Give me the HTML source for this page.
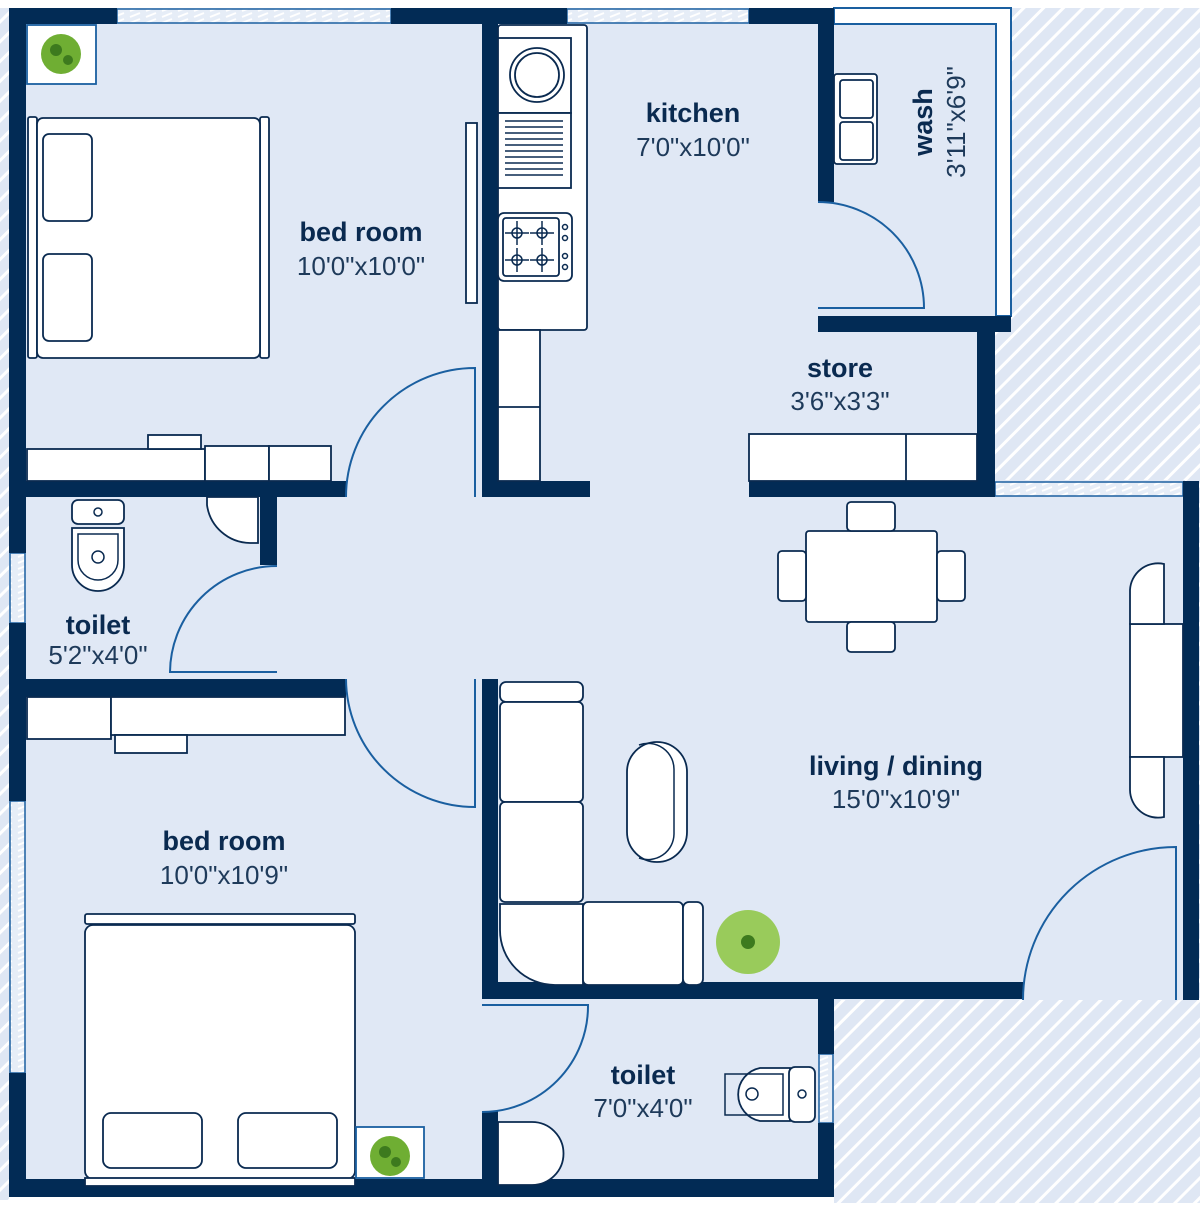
<!DOCTYPE html>
<html><head><meta charset="utf-8"><style>
html,body{margin:0;padding:0;background:#fff;}
svg{display:block;}
text{font-family:"Liberation Sans",sans-serif;fill:#0a2a50;}
.b{font-weight:bold;font-size:27px;}
.d{font-size:26px;fill:#1e3a5a;}
</style></head><body>
<svg width="1200" height="1208" viewBox="0 0 1200 1208" xmlns="http://www.w3.org/2000/svg">
<defs>
<pattern id="h" width="14" height="14" patternUnits="userSpaceOnUse" patternTransform="rotate(45)">
<rect width="14" height="14" fill="#dfe7f4"/><rect x="0" y="0" width="3" height="14" fill="#fff"/>
</pattern>
<pattern id="w" width="16" height="6" patternUnits="userSpaceOnUse">
<rect width="16" height="6" fill="#e6edf7"/><line x1="2" y1="5" x2="12" y2="1" stroke="#fff" stroke-width="2"/>
</pattern>
</defs>
<rect width="1200" height="1208" fill="#fff"/>
<rect x="0" y="8" width="9" height="1192" fill="url(#h)"/>
<rect x="1011" y="8" width="189" height="475" fill="url(#h)"/>
<rect x="995" y="330" width="205" height="153" fill="url(#h)"/>
<rect x="834" y="998" width="366" height="205" fill="url(#h)"/>
<rect x="1198" y="480" width="2" height="520" fill="url(#h)"/>
<g fill="#e0e8f5">
<rect x="9" y="8" width="825" height="490"/>
<rect x="834" y="24" width="162" height="300"/>
<rect x="830" y="324" width="150" height="170"/>
<rect x="9" y="480" width="1176" height="520"/>
<rect x="9" y="990" width="825" height="200"/>
</g>
<path d="M834 8 H1011 V316 H996 V24 H834 Z" fill="#fff" stroke="#1a5fa0" stroke-width="2"/>
<g fill="url(#w)" stroke="#1a5fa0" stroke-width="1.5">
<rect x="117" y="9" width="274" height="14"/>
<rect x="567" y="9" width="182" height="14"/>
<rect x="995" y="482" width="188" height="14"/>
<rect x="10" y="553" width="15" height="70"/>
<rect x="10" y="801" width="15" height="272"/>
<rect x="819" y="1054" width="14" height="69"/>
</g>
<g fill="#022b55">
<rect x="9" y="8" width="108" height="16"/>
<rect x="391" y="8" width="176" height="16"/>
<rect x="749" y="8" width="85" height="16"/>
<rect x="9" y="8" width="17" height="545"/>
<rect x="9" y="623" width="17" height="178"/>
<rect x="9" y="1073" width="17" height="124"/>
<rect x="9" y="1179" width="825" height="18"/>
<rect x="482" y="8" width="16" height="489"/>
<rect x="9" y="481" width="337" height="16"/>
<rect x="482" y="481" width="108" height="16"/>
<rect x="260" y="497" width="17" height="68"/>
<rect x="9" y="679" width="337" height="18"/>
<rect x="482" y="679" width="16" height="320"/>
<rect x="482" y="982" width="541" height="17"/>
<rect x="482" y="1111" width="16" height="86"/>
<rect x="818" y="982" width="16" height="72"/>
<rect x="818" y="1123" width="16" height="74"/>
<rect x="818" y="8" width="16" height="194"/>
<rect x="818" y="316" width="193" height="16"/>
<rect x="977" y="316" width="18" height="181"/>
<rect x="749" y="481" width="246" height="16"/>
<rect x="1183" y="481" width="16" height="519"/>
</g>
<g fill="none" stroke="#1a5fa0" stroke-width="2">
<path d="M346 497 A129 129 0 0 1 475 368 V497"/>
<path d="M277 566 A107 107 0 0 0 170 672 H277"/>
<path d="M346 679 A129 129 0 0 0 475 807 V679"/>
<path d="M482 1005 H588 A106 106 0 0 1 482 1112"/>
<path d="M818 202 A106 106 0 0 1 924 308 H818"/>
<path d="M1023 1000 A153 153 0 0 1 1176 847 V1000"/>
</g>
<g fill="#fff" stroke="#0a2a50" stroke-width="1.8">
<rect x="28" y="117" width="9" height="241" rx="2"/>
<rect x="260" y="117" width="9" height="241" rx="2"/>
<rect x="37" y="118" width="223" height="240" rx="6"/>
<rect x="43" y="134" width="49" height="87" rx="6"/>
<rect x="43" y="254" width="49" height="87" rx="6"/>
<rect x="466" y="123" width="11" height="180"/>
<rect x="27" y="25" width="69" height="59" stroke="#1a5fa0"/>
<rect x="498" y="25" width="89" height="305" rx="3"/>
<rect x="498" y="38" width="73" height="75"/>
<circle cx="537" cy="75" r="27"/><circle cx="537" cy="75" r="22"/>
<rect x="498" y="113" width="73" height="75"/>
<rect x="498" y="213" width="74" height="68" rx="6"/>
<rect x="503" y="218" width="56" height="58" rx="3"/>
<rect x="498" y="330" width="42" height="151"/>
<line x1="498" y1="407" x2="540" y2="407"/>
<rect x="27" y="449" width="178" height="32"/>
<rect x="205" y="446" width="64" height="35"/>
<rect x="269" y="446" width="62" height="35"/>
<rect x="148" y="435" width="53" height="14"/>
<rect x="72" y="500" width="52" height="24" rx="6"/>
<path d="M72 528 H124 V565 A26 26 0 0 1 72 565 Z"/>
<path d="M207 497 H258 V543 H250 A44 44 0 0 1 207 505 Z"/>
<rect x="27" y="697" width="84" height="42"/>
<rect x="111" y="697" width="234" height="38"/>
<rect x="115" y="735" width="72" height="18"/>
<rect x="85" y="914" width="270" height="10" rx="2"/>
<rect x="85" y="925" width="270" height="254" rx="8"/>
<rect x="85" y="1178" width="270" height="8"/>
<rect x="103" y="1113" width="99" height="55" rx="8"/>
<rect x="238" y="1113" width="99" height="55" rx="8"/>
<rect x="356" y="1127" width="68" height="51" stroke="#1a5fa0"/>
<path d="M498 1122 H532 A31 31 0 0 1 532 1185 H498 Z"/>
<path d="M790 1068 V1121 H760 A27 27 0 0 1 760 1068 Z"/>
<rect x="789" y="1067" width="26" height="55" rx="6"/>
<rect x="749" y="434" width="228" height="47"/>
<line x1="906" y1="434" x2="906" y2="481"/>
<rect x="806" y="531" width="131" height="91" rx="3"/>
<rect x="847" y="502" width="48" height="29" rx="4"/>
<rect x="847" y="622" width="48" height="30" rx="4"/>
<rect x="778" y="551" width="28" height="50" rx="4"/>
<rect x="937" y="551" width="28" height="50" rx="4"/>
<rect x="500" y="682" width="83" height="20" rx="6"/>
<rect x="500" y="702" width="83" height="100" rx="5"/>
<rect x="500" y="802" width="83" height="100" rx="5"/>
<path d="M500 904 H583 V985 H555 A55 55 0 0 1 500 930 Z"/>
<rect x="583" y="902" width="100" height="83" rx="5"/>
<rect x="683" y="902" width="20" height="83" rx="6"/>
<rect x="627" y="742" width="60" height="120" rx="30"/>
<rect x="1130" y="624" width="53" height="133"/>
<path d="M1164 564 V624 H1130 V590 A28 28 0 0 1 1164 564 Z"/>
<path d="M1164 817 V757 H1130 V790 A28 28 0 0 0 1164 817 Z"/>
<rect x="834" y="74" width="43" height="90" rx="3"/>
<rect x="840" y="80" width="33" height="38" rx="3"/>
<rect x="840" y="122" width="33" height="38" rx="3"/>
</g>
<g fill="none" stroke="#0a2a50" stroke-width="1.5">
<circle cx="517" cy="233" r="5"/><circle cx="542" cy="233" r="5"/>
<circle cx="517" cy="260" r="5"/><circle cx="542" cy="260" r="5"/>
<line x1="505" y1="233" x2="529" y2="233"/><line x1="517" y1="221" x2="517" y2="245"/>
<line x1="530" y1="233" x2="554" y2="233"/><line x1="542" y1="221" x2="542" y2="245"/>
<line x1="505" y1="260" x2="529" y2="260"/><line x1="517" y1="248" x2="517" y2="272"/>
<line x1="530" y1="260" x2="554" y2="260"/><line x1="542" y1="248" x2="542" y2="272"/>
<circle cx="565" cy="227" r="2.5"/><circle cx="565" cy="238" r="2.5"/><circle cx="565" cy="256" r="2.5"/><circle cx="565" cy="267" r="2.5"/>
<path d="M505 121 H563 M505 127 H563 M505 133 H563 M505 139 H563 M505 145 H563 M505 151 H563 M505 157 H563 M505 163 H563 M505 169 H563 M505 175 H563"/>
<circle cx="98" cy="512" r="4"/>
<circle cx="98" cy="557" r="6"/>
<path d="M78 534 H118 V560 A20 20 0 0 1 78 560 Z"/>
<path d="M725 1074 H783 V1115 H725 Z"/>
<circle cx="752" cy="1094" r="6"/>
<circle cx="802" cy="1094" r="4"/>
<path d="M639 745 A26 26 0 0 1 674 770 V834 A26 26 0 0 1 639 858"/>
</g>
<g fill="#6fae33">
<circle cx="61" cy="54" r="20"/><circle cx="390" cy="1156" r="20"/>
<circle cx="748" cy="942" r="32" fill="#8cc63f" opacity="0.85"/>
</g>
<g fill="#3d7a1e"><circle cx="56" cy="50" r="6"/><circle cx="68" cy="60" r="5"/><circle cx="385" cy="1152" r="6"/><circle cx="396" cy="1162" r="5"/><circle cx="748" cy="942" r="7"/></g>
<text class="b" x="361" y="241" text-anchor="middle">bed room</text>
<text class="d" x="361" y="275" text-anchor="middle">10'0"x10'0"</text>
<text class="b" x="693" y="122" text-anchor="middle">kitchen</text>
<text class="d" x="693" y="156" text-anchor="middle">7'0"x10'0"</text>
<text class="b" x="840" y="377" text-anchor="middle">store</text>
<text class="d" x="840" y="410" text-anchor="middle">3'6"x3'3"</text>
<text class="b" x="98" y="634" text-anchor="middle">toilet</text>
<text class="d" x="98" y="664" text-anchor="middle">5'2"x4'0"</text>
<text class="b" x="224" y="850" text-anchor="middle">bed room</text>
<text class="d" x="224" y="884" text-anchor="middle">10'0"x10'9"</text>
<text class="b" x="896" y="775" text-anchor="middle">living / dining</text>
<text class="d" x="896" y="808" text-anchor="middle">15'0"x10'9"</text>
<text class="b" x="643" y="1084" text-anchor="middle">toilet</text>
<text class="d" x="643" y="1117" text-anchor="middle">7'0"x4'0"</text>
<text class="b" transform="translate(932,122) rotate(-90)" text-anchor="middle">wash</text>
<text class="d" transform="translate(965,122) rotate(-90)" text-anchor="middle">3'11"x6'9"</text>
</svg>
</body></html>
